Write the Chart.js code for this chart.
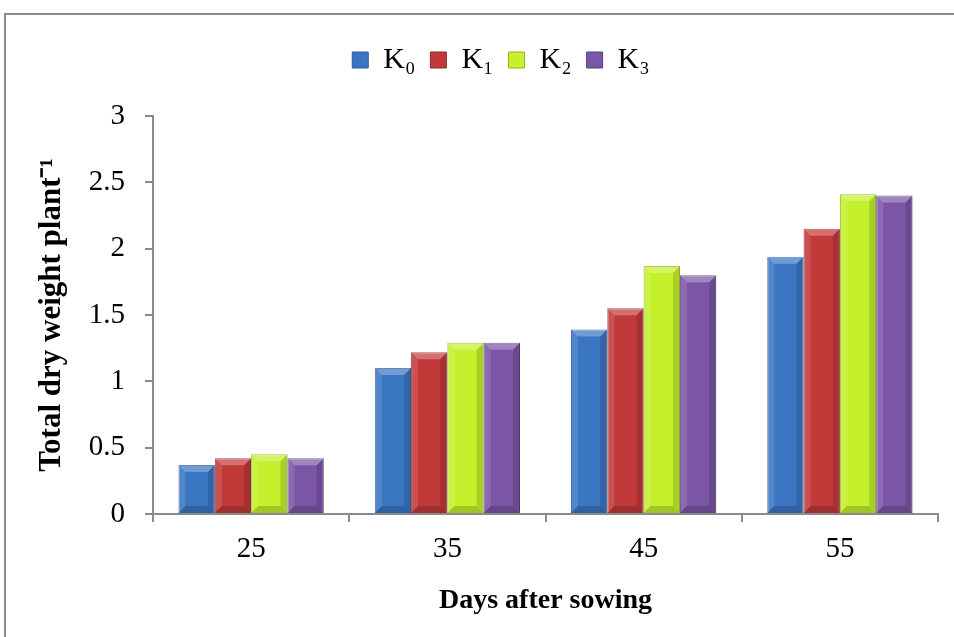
<!DOCTYPE html>
<html><head><meta charset="utf-8">
<script src="https://cdn.jsdelivr.net/npm/chart.js@4/dist/chart.umd.min.js"></script>
<style>
html,body{margin:0;padding:0;background:#fff;overflow:hidden}
#wrap{position:absolute;left:0;top:0;width:954px;height:637px}
#frame{position:absolute;left:4px;top:13px;width:960px;height:640px;border-left:2px solid #8a8a8a;border-top:2px solid #8a8a8a}
canvas{position:absolute;left:0;top:0}
</style></head>
<body><div id="wrap"><div id="frame"></div><canvas id="c" width="954" height="637"></canvas></div>
<script>
const categories = ['25','35','45','55'];
const seriesNames = ['K\u2080','K\u2081','K\u2082','K\u2083'];
const k0 = [0.37, 1.10, 1.39, 1.94];
const k1 = [0.42, 1.22, 1.55, 2.15];
const k2 = [0.45, 1.29, 1.87, 2.41];
const k3 = [0.42, 1.29, 1.80, 2.40];
const yTicks = { min: 0, max: 3, step: 0.5 };
const colors = ['#3b76c3','#c2393a','#c5f12c','#7c56a6'];
const borders = ['#2c5a96','#922a2b','#94b51f','#5b3e7c'];
const values = [k0,k1,k2,k3];

Chart.defaults.font.family = '"Liberation Serif", "Times New Roman", serif';
Chart.defaults.color = '#000';

// subtle bevel on bars, using the bar elements' own geometry
const bevel = {
  id: 'bevel',
  afterDatasetsDraw(chart) {
    const ctx = chart.ctx;
    chart.data.datasets.forEach((ds, di) => {
      chart.getDatasetMeta(di).data.forEach(bar => {
        const l = bar.x - bar.width/2, r = bar.x + bar.width/2, t = bar.y, b = bar.base;
        const d = Math.min(7, (b - t)/3);
        ctx.save();
        ctx.fillStyle = 'rgba(255,255,255,0.28)';
        ctx.beginPath(); ctx.moveTo(l,t); ctx.lineTo(r,t); ctx.lineTo(r-d,t+d); ctx.lineTo(l+d,t+d); ctx.closePath(); ctx.fill();
        ctx.fillStyle = 'rgba(255,255,255,0.12)';
        ctx.beginPath(); ctx.moveTo(l,t); ctx.lineTo(l+d,t+d); ctx.lineTo(l+d,b-d); ctx.lineTo(l,b); ctx.closePath(); ctx.fill();
        ctx.fillStyle = 'rgba(0,0,0,0.14)';
        ctx.beginPath(); ctx.moveTo(r,t); ctx.lineTo(r-d,t+d); ctx.lineTo(r-d,b-d); ctx.lineTo(r,b); ctx.closePath(); ctx.fill();
        ctx.fillStyle = 'rgba(0,0,0,0.18)';
        ctx.beginPath(); ctx.moveTo(l,b); ctx.lineTo(l+d,b-d); ctx.lineTo(r-d,b-d); ctx.lineTo(r,b); ctx.closePath(); ctx.fill();
        ctx.restore();
      });
    });
  }
};

// extra gap below the legend and shift it right, as in the reference layout
const legendSpacing = {
  id: 'legendSpacing',
  afterInit(chart) {
    const lg = chart.legend;
    const orig = lg.fit;
    lg.fit = function() { orig.call(this); this.height += 31; };
  },
  afterLayout(chart) { chart.legend.left += 64; }
};

new Chart(document.getElementById('c'), {
  type: 'bar',
  data: {
    labels: categories,
    datasets: values.map((v,i)=>({
      label: seriesNames[i], data: v,
      backgroundColor: colors[i], borderColor: borders[i], borderWidth: 1,
      categoryPercentage: 0.74, barPercentage: 1.0
    }))
  },
  plugins: [bevel, legendSpacing],
  options: {
    responsive: false, animation: false,
    layout: { padding: { left: 0, right: 16, top: 30, bottom: 0 } },
    plugins: {
      tooltip: { enabled: false },
      legend: {
        position: 'top',
        labels: { boxWidth: 16, boxHeight: 16, padding: 15, font: { size: 30 } }
      }
    },
    scales: {
      x: {
        offset: true,
        afterFit(s) { s.height = 123; },
        grid: { display: true, drawOnChartArea: false, offset: true, color: '#8a8a8a', tickLength: 8, lineWidth: 2 },
        border: { color: '#8a8a8a', width: 2 },
        ticks: { font: { size: 29 }, padding: 10 },
        title: { display: true, text: 'Days after sowing', font: { size: 28, weight: 'bold' }, padding: { top: 4, bottom: 19 } }
      },
      y: {
        min: yTicks.min, max: yTicks.max,
        afterFit(s) { s.width = 153; },
        grid: { display: true, drawOnChartArea: false, color: '#8a8a8a', tickLength: 8, lineWidth: 2 },
        border: { color: '#8a8a8a', width: 2 },
        ticks: { stepSize: yTicks.step, font: { size: 29 }, padding: 20, callback: v => String(v) },
        title: { display: true, text: 'Total dry weight plant\u207B\u00B9', font: { size: 31, weight: 'bold' }, padding: { top: 33, bottom: 4 } }
      }
    }
  }
});
</script></body></html>
